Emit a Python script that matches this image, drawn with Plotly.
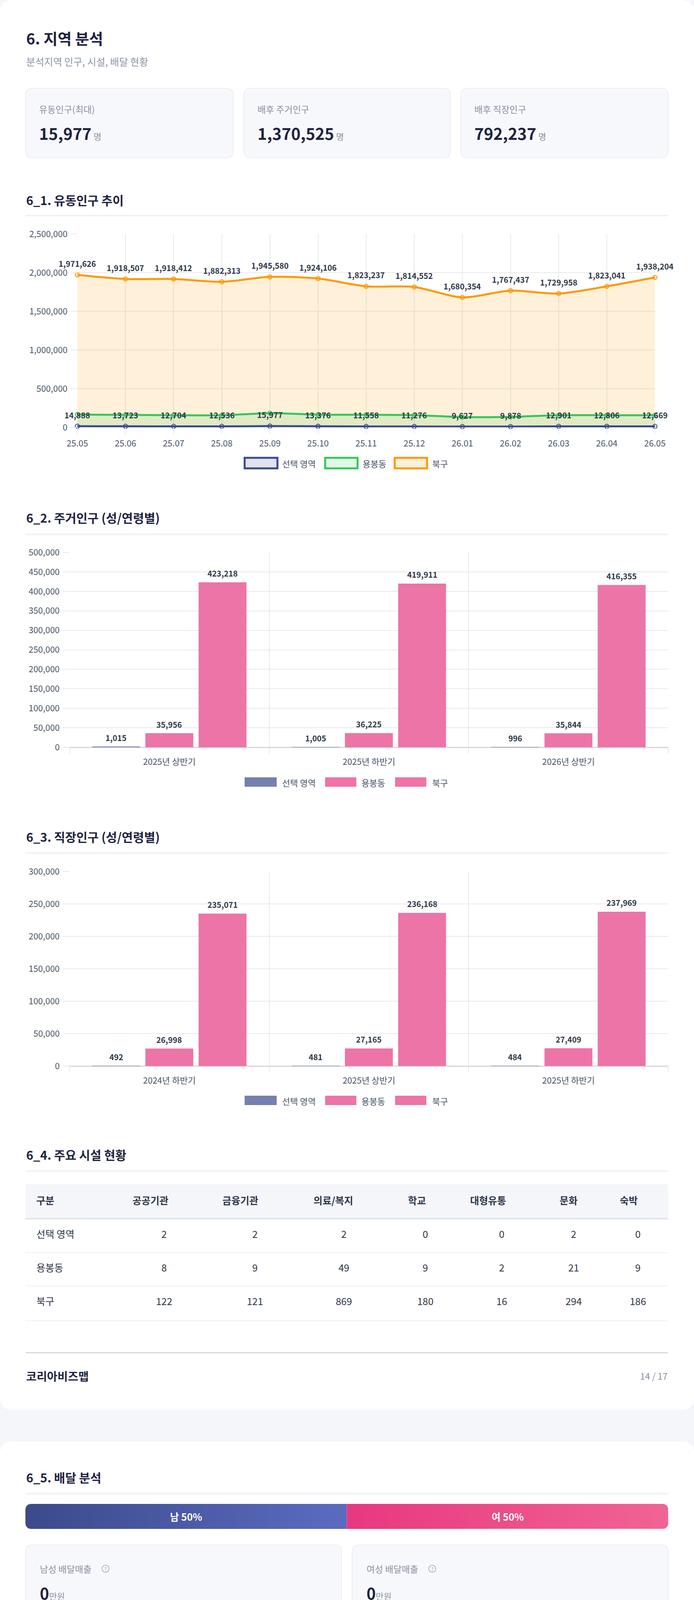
import math
import plotly.graph_objects as go

W, H = 1776, 4764
FONT = "Noto Sans CJK KR"

# ---------------- data ----------------
months = ['25.05', '25.06', '25.07', '25.08', '25.09', '25.10', '25.11',
          '25.12', '26.01', '26.02', '26.03', '26.04', '26.05']
float_sel = [14888, 13723, 12704, 12536, 15977, 13376, 11558, 11276, 9627, 9878, 12901, 12806, 12669]
float_dong = [165000, 161000, 157000, 156000, 183000, 164000, 162000, 158000, 133000, 135000, 157000, 157000, 156000]
float_gu = [1971626, 1918507, 1918412, 1882313, 1945580, 1924106, 1823237, 1814552, 1680354, 1767437, 1729958, 1823041, 1938204]

res_periods = ['2025년 상반기', '2025년 하반기', '2026년 상반기']
res_sel = [1015, 1005, 996]
res_dong = [35956, 36225, 35844]
res_gu = [423218, 419911, 416355]

work_periods = ['2024년 하반기', '2025년 상반기', '2025년 하반기']
work_sel = [492, 481, 484]
work_dong = [26998, 27165, 27409]
work_gu = [235071, 236168, 237969]

series_names = ['선택 영역', '용봉동', '북구']

fac_cols = ['구분', '공공기관', '금융기관', '의료/복지', '학교', '대형유통', '문화', '숙박']
fac_rows = ['선택 영역', '용봉동', '북구']
fac_sel = [2, 2, 2, 0, 0, 2, 0]
fac_dong = [8, 9, 49, 9, 2, 21, 9]
fac_gu = [122, 121, 869, 180, 16, 294, 186]

kpi_labels = ['유동인구(최대)', '배후 주거인구', '배후 직장인구']
kpi_values = [15977, 1370525, 792237]

gender_labels = ['남', '여']
gender_share = [50, 50]
delivery_labels = ['남성 배달매출', '여성 배달매출']
delivery_values = [0, 0]

# ---------------- helpers ----------------
def X(px):
    return px / W


def Y(py):
    return 1 - py / H


shapes = []
annos = []

NAVY = '#3b4a8c'
GREEN = '#34c759'
ORANGE = '#ff9800'
BAR_BLUE = '#7480ae'
BAR_PINK = '#ed74a7'
TXT = '#1f2340'
AX = '#4a5568'
GRID = '#e9e9e9'


def rrect(x0, y0, x1, y1, r, fill, line=None, lw=0, layer='below'):
    rx, ry = r / W, r / H
    a0, a1 = X(x0), X(x1)
    b0, b1 = Y(y1), Y(y0)
    p = (f"M {a0+rx},{b1} L {a1-rx},{b1} Q {a1},{b1} {a1},{b1-ry} "
         f"L {a1},{b0+ry} Q {a1},{b0} {a1-rx},{b0} L {a0+rx},{b0} "
         f"Q {a0},{b0} {a0},{b0+ry} L {a0},{b1-ry} Q {a0},{b1} {a0+rx},{b1} Z")
    ln = dict(width=lw, color=line if line else 'rgba(0,0,0,0)')
    shapes.append(dict(type='path', xref='paper', yref='paper', path=p,
                       fillcolor=fill, line=ln, layer=layer))


def rect(x0, y0, x1, y1, fill, line=None, lw=0, layer='below'):
    shapes.append(dict(type='rect', xref='paper', yref='paper',
                       x0=X(x0), x1=X(x1), y0=Y(y1), y1=Y(y0),
                       fillcolor=fill,
                       line=dict(width=lw, color=line if line else 'rgba(0,0,0,0)'),
                       layer=layer))


def hline(x0, x1, y, color, w, dash=None, layer='below'):
    d = dict(type='line', xref='paper', yref='paper', x0=X(x0), x1=X(x1),
             y0=Y(y), y1=Y(y), line=dict(color=color, width=w), layer=layer)
    if dash:
        d['line']['dash'] = dash
    shapes.append(d)


def text(x, y, s, size, color, anchor='left', bold=False):
    annos.append(dict(xref='paper', yref='paper', x=X(x), y=Y(y),
                      text=f"<b>{s}</b>" if bold else s, showarrow=False,
                      xanchor=anchor, yanchor='middle',
                      font=dict(family=FONT, size=size, color=color)))


# ---------------- page background / cards ----------------
rrect(0, 0, W, 3609, 32, 'white')
rrect(0, 3690, W, 4764, 32, 'white')

# header
text(65, 97, '6. 지역 분석', 39, TXT, bold=True)
text(65, 157, '분석지역 인구, 시설, 배달 현황', 25, '#8e95a9')

kpi_x = [(65, 597), (624, 1153), (1179, 1710)]
for (x0, x1), lab, val in zip(kpi_x, kpi_labels, kpi_values):
    rrect(x0, 226, x1, 404, 18, '#f7f8fc', '#eceef4', 2)
    text(x0 + 33, 279, lab, 23, '#8a90a2')
    annos.append(dict(xref='paper', yref='paper', x=X(x0 + 33), y=Y(340),
                      text=f"<b>{val:,}</b><span style='font-size:22px;color:#8a90a2'> 명</span>",
                      showarrow=False, xanchor='left', yanchor='middle',
                      font=dict(family=FONT, size=41, color=TXT)))

# section titles & separators
sections = [('6_1. 유동인구 추이', 511, 552), ('6_2. 주거인구 (성/연령별)', 1325, 1368),
            ('6_3. 직장인구 (성/연령별)', 2141, 2184), ('6_4. 주요 시설 현황', 2955, 2998),
            ('6_5. 배달 분석', 3781, 3824), ('6_10. 분석결과', 4248, 4292)]
for t, ty, sy in sections:
    text(65, ty, t, 31, TXT, bold=True)
    hline(65, 1710, sy, '#eef0f4', 3.5)

# footers
for fy, ly, pg in [(3522, 3463, '14 / 17'), (4674, 4615, '15 / 17')]:
    hline(65, 1710, ly, '#cfd6e2', 3)
    text(65, fy, '코리아비즈맵', 29, TXT, bold=True)
    text(1710, fy, pg, 23, '#8a90a2', anchor='right')

fig = go.Figure()

# ---------------- 6_1 line chart ----------------
line_series = [(float_gu, ORANGE, 'rgba(255,152,0,0.15)'),
               (float_dong, GREEN, 'rgba(52,199,89,0.15)'),
               (float_sel, NAVY, 'rgba(59,74,140,0.15)')]
for vals, col, fcol in line_series:
    fig.add_trace(go.Scatter(
        x=months, y=vals, mode='lines+markers', xaxis='x', yaxis='y',
        line=dict(color=col, width=5, shape='spline', smoothing=0.8),
        fill='tozeroy', fillcolor=fcol,
        marker=dict(size=11, color=fcol, line=dict(color=col, width=2)),
        cliponaxis=False, hoverinfo='skip'))

for vals in (float_gu, float_sel):
    for i, v in enumerate(vals):
        annos.append(dict(xref='x', yref='y', x=i, y=v, yshift=29,
                          text=f"<b>{v:,}</b>", showarrow=False,
                          font=dict(family=FONT, size=20, color='#2d3748')))

# custom legend (line)
leg_line = [(626, 710, 720, '#e0e3ee', NAVY), (832, 915, 926, '#e3f7e8', GREEN),
            (1010, 1093, 1104, '#fff0db', ORANGE)]
for (bx0, bx1, tx, fc, lc), nm in zip(leg_line, series_names):
    rect(bx0, 1172, bx1, 1199, fc, lc, 5, layer='above')
    text(tx, 1186, nm, 22, AX)

# ---------------- bar charts ----------------
slot = (1710 - 178) / 3 * 0.8 / 3
bar_sets = [('x2', 'y2', res_periods, [res_sel, res_dong, res_gu], 2002),
            ('x3', 'y3', work_periods, [work_sel, work_dong, work_gu], 2817)]
for xa, ya, cats, groups, ly in bar_sets:
    for k, (vals, col) in enumerate(zip(groups, [BAR_BLUE, BAR_PINK, BAR_PINK])):
        fig.add_trace(go.Bar(x=cats, y=vals, xaxis=xa, yaxis=ya,
                             marker=dict(color=col, line=dict(width=0)),
                             hoverinfo='skip'))
        for c, v in zip(cats, vals):
            annos.append(dict(xref=xa, yref=ya, x=c, y=v, yshift=23,
                              xshift=(k - 1) * slot, text=f"<b>{v:,}</b>",
                              showarrow=False,
                              font=dict(family=FONT, size=20, color='#2d3748')))
    leg_bar = [(626, 708, 720, BAR_BLUE), (832, 912, 923, BAR_PINK), (1011, 1091, 1104, BAR_PINK)]
    for (bx0, bx1, tx, fc), nm in zip(leg_bar, series_names):
        rect(bx0, ly - 12, bx1, ly + 12, fc)
        text(tx, ly + 1, nm, 22, AX)

# ---------------- 6_4 table ----------------
rect(65, 3032, 1710, 3118, '#f4f6fa')
hline(65, 1710, 3120, '#e2e7ef', 4)
for sy in (3207, 3292, 3381):
    hline(65, 1710, sy, '#eef0f4', 2)
CLEAR = 'rgba(0,0,0,0)'
# header row
fig.add_trace(go.Table(
    domain=dict(x=[X(85), X(1710)], y=[Y(3150), Y(3056)]),
    columnwidth=[123, 354, 106, 370, 58, 306, 106, 202],
    header=dict(values=fac_cols, fill_color=CLEAR, line=dict(color=CLEAR, width=1),
                align=['left'] + ['center'] * 7, height=86,
                font=dict(family=FONT, size=25, color='#2d3748', weight=600)),
    cells=dict(values=[[] for _ in fac_cols], fill_color=CLEAR,
               line=dict(color=CLEAR, width=1))))
# body rows
cell_vals = [fac_rows] + [[fac_sel[i], fac_dong[i], fac_gu[i]] for i in range(7)]
fig.add_trace(go.Table(
    domain=dict(x=[X(85), X(1710)], y=[Y(3430), Y(3056)]),
    columnwidth=[220, 230, 235, 220, 197, 194, 174, 155],
    header=dict(values=[''] * len(fac_cols), fill_color=CLEAR,
                line=dict(color=CLEAR, width=1), height=86,
                font=dict(family=FONT, size=25, color='#2d3748')),
    cells=dict(values=cell_vals, fill_color=CLEAR,
               line=dict(color=CLEAR, width=1),
               align=['left'] + ['center'] * 7, height=86,
               font=dict(family=FONT, size=25, color='#2d3748'))))

# ---------------- 6_5 gender bar ----------------
BAR_PX_W, BAR_PX_H, RAD = 1710 - 65, 64, 14
rx = RAD / (BAR_PX_W / 100.0)
ry = RAD / BAR_PX_H


def seg_poly(x0, x1, round_left, round_right, n=8):
    xs, ys = [], []
    if round_left:
        for k in range(n + 1):
            t = math.pi + (math.pi / 2) * k / n
            xs.append(x0 + rx + rx * math.cos(t)); ys.append(ry + ry * math.sin(t))
    else:
        xs.append(x0); ys.append(0)
    if round_right:
        for k in range(n + 1):
            t = 1.5 * math.pi + (math.pi / 2) * k / n
            xs.append(x1 - rx + rx * math.cos(t)); ys.append(ry + ry * math.sin(t))
        for k in range(n + 1):
            t = (math.pi / 2) * k / n
            xs.append(x1 - rx + rx * math.cos(t)); ys.append(1 - ry + ry * math.sin(t))
    else:
        xs += [x1, x1]; ys += [0, 1]
    if round_left:
        for k in range(n + 1):
            t = math.pi / 2 + (math.pi / 2) * k / n
            xs.append(x0 + rx + rx * math.cos(t)); ys.append(1 - ry + ry * math.sin(t))
    else:
        xs.append(x0); ys.append(1)
    xs.append(xs[0]); ys.append(ys[0])
    return xs, ys


grads = [[[0, '#3c4a8b'], [1, '#5b6bc0']], [[0, '#e8387f'], [1, '#f06494']]]
cum = 0
for i, (lab, share) in enumerate(zip(gender_labels, gender_share)):
    xs, ys = seg_poly(cum, cum + share, i == 0, i == len(gender_share) - 1)
    fig.add_trace(go.Scatter(x=xs, y=ys, xaxis='x4', yaxis='y4', mode='lines',
                             line=dict(width=0), fill='toself',
                             fillgradient=dict(type='horizontal', colorscale=grads[i]),
                             hoverinfo='skip'))
    annos.append(dict(xref='x4', yref='y4', x=cum + share / 2, y=0.5,
                      text=f"<b>{lab} {share}%</b>", showarrow=False,
                      font=dict(family=FONT, size=25, color='white')))
    cum += share

dcards = [(65, 874), (901, 1710)]
for (x0, x1), lab, val in zip(dcards, delivery_labels, delivery_values):
    rrect(x0, 3955, x1, 4141, 18, '#f7f8fc', '#eceef4', 2)
    text(x0 + 35, 4016, lab, 23, '#8a90a2')
    icx = x0 + 205
    shapes.append(dict(type='circle', xref='paper', yref='paper',
                       x0=X(icx - 9), x1=X(icx + 9), y0=Y(4025), y1=Y(4007),
                       line=dict(color='#9aa1b3', width=1.5), fillcolor='rgba(0,0,0,0)'))
    text(icx, 4016, '?', 13, '#9aa1b3', anchor='center')
    annos.append(dict(xref='paper', yref='paper', x=X(x0 + 35), y=Y(4078),
                      text=f"<b>{val:,}</b><span style='font-size:22px;color:#8a90a2'>만원</span>",
                      showarrow=False, xanchor='left', yanchor='middle',
                      font=dict(family=FONT, size=40, color=TXT)))

# ---------------- 6_10 result box ----------------
rrect(65, 4326, 1710, 4534, 22, '#eef3fd')
rect(65, 4326, 71, 4534, NAVY)
text(113, 4380, '선택하신 업종의 배달 매출 분석에 대한 정보를 확인할 수 없습니다.', 26, '#2d3748')
hline(113, 1670, 4428, '#d3d9e6', 2, dash='dot')
RED = '#e0242b'
text(113, 4476, "선택 영역의 세대 수는 전년동기대비 0.9% "
                f"<b><span style='color:{RED}'>감소</span></b>했고, 선택 영역이 속한 북구 보다 증감률이 "
                f"<b><span style='color:{RED}'>낮습니다</span></b>.", 26, '#2d3748')

# ---------------- layout ----------------
tickf = dict(family=FONT, size=22, color=AX)
common_x = dict(showgrid=True, gridcolor=GRID, zeroline=False, showline=False,
                ticks='outside', ticklen=16, tickcolor=GRID, tickfont=tickf,
                automargin=False, fixedrange=True)
fig.update_layout(
    template='none',
    width=W, height=H, margin=dict(l=0, r=0, t=0, b=0, pad=0),
    paper_bgcolor='#f5f6fa', plot_bgcolor='rgba(0,0,0,0)',
    showlegend=False, barmode='group', bargap=0.2, bargroupgap=0.1,
    font=dict(family=FONT),
    xaxis=dict(domain=[X(198), X(1676)], anchor='y', type='category', range=[0, 12],
               gridwidth=2, tickwidth=2, ticklabelstandoff=6, **common_x),
    yaxis=dict(domain=[Y(1094), Y(599)], anchor='x', range=[0, 2500000], dtick=500000,
               tickformat=',d', showgrid=True, gridcolor=GRID, gridwidth=2, zeroline=False,
               ticks='outside', ticklen=16, tickcolor=GRID, tickwidth=2,
               tickfont=tickf, ticklabelstandoff=4, automargin=False, fixedrange=True),
    xaxis2=dict(domain=[X(178), X(1710)], anchor='y2', type='category', tickson='boundaries',
                gridwidth=1.5, tickwidth=1.5, ticklabelstandoff=22, **common_x),
    yaxis2=dict(domain=[Y(1913), Y(1414)], anchor='x2', range=[0, 500000], dtick=50000,
                tickformat=',d', showgrid=True, gridcolor=GRID, gridwidth=2,
                zeroline=True, zerolinecolor='#d6d6d6', zerolinewidth=3,
                ticks='outside', ticklen=16, tickcolor=GRID, tickwidth=2,
                tickfont=tickf, ticklabelstandoff=4, automargin=False, fixedrange=True),
    xaxis3=dict(domain=[X(178), X(1710)], anchor='y3', type='category', tickson='boundaries',
                gridwidth=1.5, tickwidth=1.5, ticklabelstandoff=22, **common_x),
    yaxis3=dict(domain=[Y(2729), Y(2231)], anchor='x3', range=[0, 300000], dtick=50000,
                tickformat=',d', showgrid=True, gridcolor=GRID, gridwidth=2,
                zeroline=True, zerolinecolor='#d6d6d6', zerolinewidth=3,
                ticks='outside', ticklen=16, tickcolor=GRID, tickwidth=2,
                tickfont=tickf, ticklabelstandoff=4, automargin=False, fixedrange=True),
    xaxis4=dict(domain=[X(65), X(1710)], anchor='y4', range=[0, 100], visible=False,
                automargin=False, fixedrange=True),
    yaxis4=dict(domain=[Y(3914), Y(3850)], anchor='x4', range=[0, 1], visible=False,
                automargin=False, fixedrange=True),
    shapes=shapes, annotations=annos,
)

fig.write_html("out.html", config={'displayModeBar': False},
               post_script="document.body.style.margin='0';document.body.style.overflow='hidden';")
